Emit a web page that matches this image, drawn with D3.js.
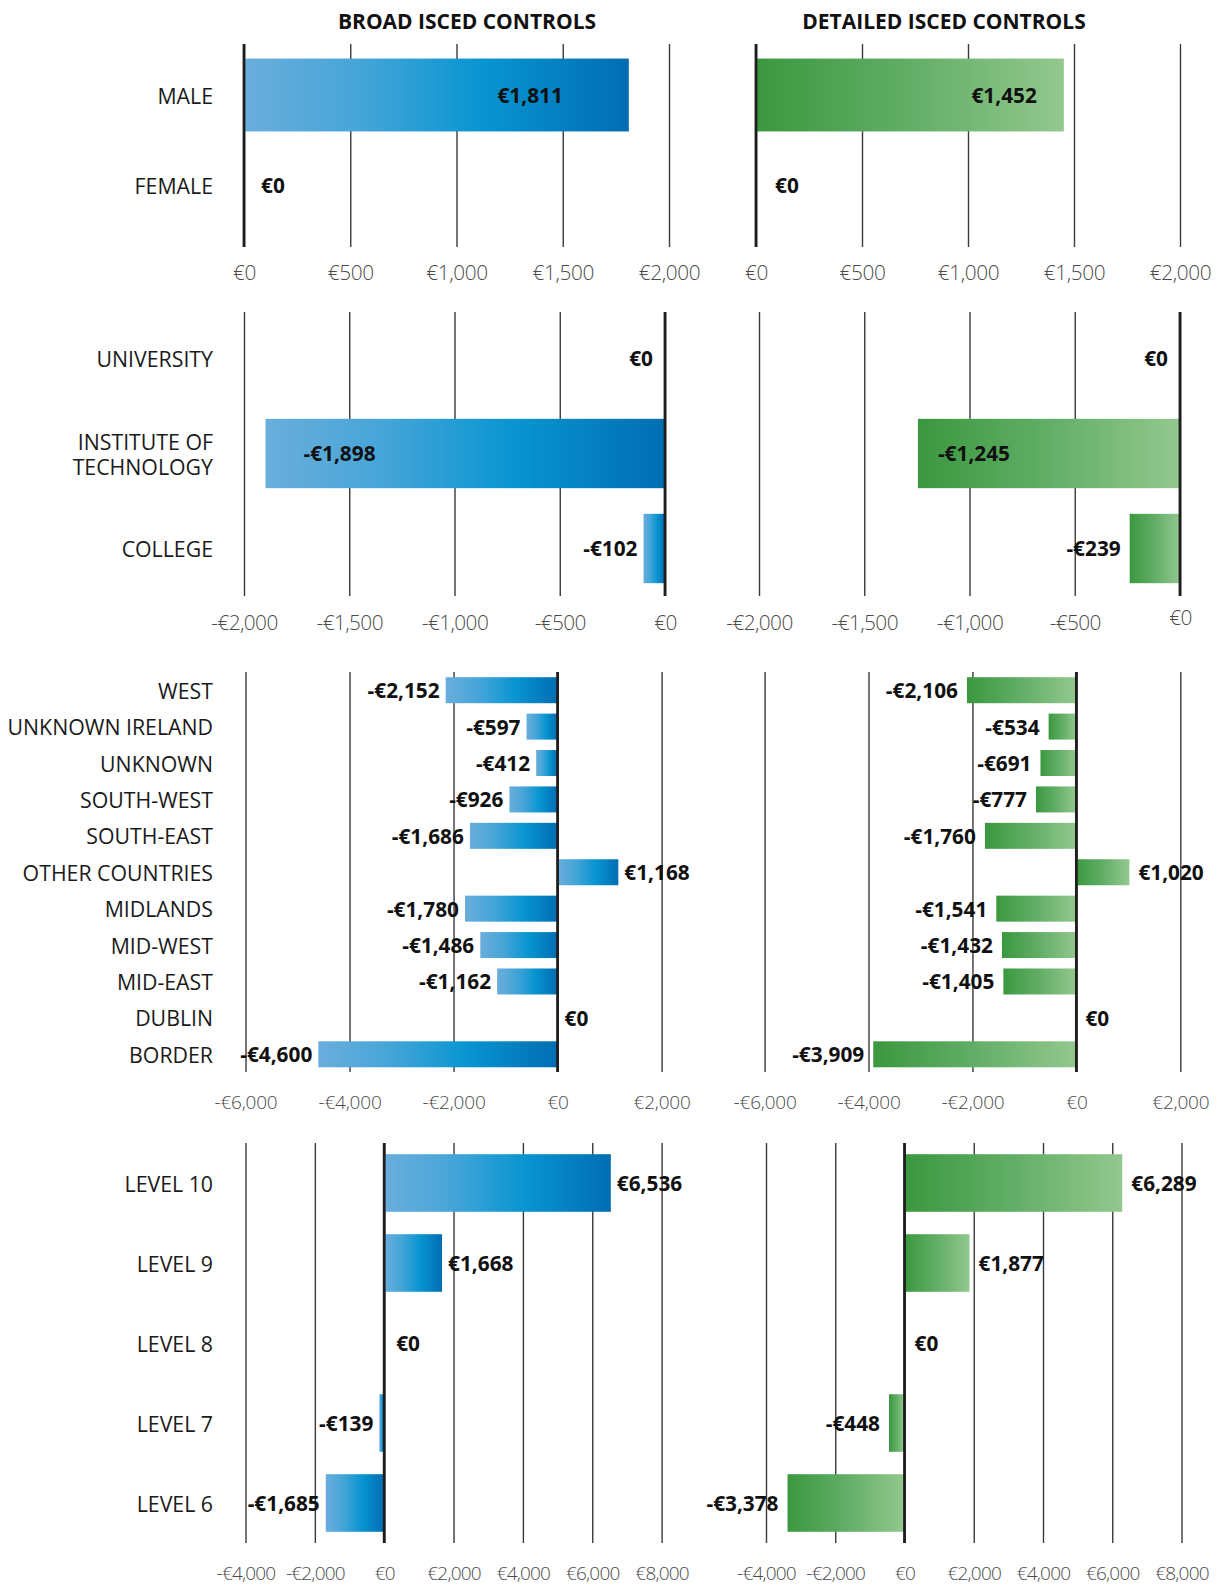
<!DOCTYPE html>
<html><head><meta charset="utf-8">
<script src="https://cdn.jsdelivr.net/npm/d3@7"></script>
<style>
body{margin:0;background:#fff}
svg{display:block}
text{font-family:"Open Sans",sans-serif}
</style>
</head><body>
<svg id="chart" width="1219" height="1585"></svg>
<script>
// ---------- DATA ----------
const panelTitles = ["BROAD ISCED CONTROLS", "DETAILED ISCED CONTROLS"];

const genderCats = ["MALE", "FEMALE"];
const genderBroad = [1811, 0];
const genderDetailed = [1452, 0];
const genderTicks = [0, 500, 1000, 1500, 2000];

const instCats = ["UNIVERSITY", "INSTITUTE OF TECHNOLOGY", "COLLEGE"];
const instBroad = [0, -1898, -102];
const instDetailed = [0, -1245, -239];
const instTicks = [-2000, -1500, -1000, -500, 0];

const regionCats = ["WEST", "UNKNOWN IRELAND", "UNKNOWN", "SOUTH-WEST", "SOUTH-EAST",
  "OTHER COUNTRIES", "MIDLANDS", "MID-WEST", "MID-EAST", "DUBLIN", "BORDER"];
const regionBroad = [-2152, -597, -412, -926, -1686, 1168, -1780, -1486, -1162, 0, -4600];
const regionDetailed = [-2106, -534, -691, -777, -1760, 1020, -1541, -1432, -1405, 0, -3909];
const regionTicks = [-6000, -4000, -2000, 0, 2000];

const levelCats = ["LEVEL 10", "LEVEL 9", "LEVEL 8", "LEVEL 7", "LEVEL 6"];
const levelBroad = [6536, 1668, 0, -139, -1685];
const levelDetailed = [6289, 1877, 0, -448, -3378];
const levelTicks = [-4000, -2000, 0, 2000, 4000, 6000, 8000];

// ---------- LAYOUT ----------
const rows = [
  {cats: genderCats, vals: [genderBroad, genderDetailed], ticks: genderTicks,
   band: [50, 230], pad: 0.19, grid: [44, 247], tickY: 273, tickFont: 20.8, tickLs: -0.4,
   xr: [[244, 669], [756, 1180]], zeroPad: [17, 19], insidePad: [66, 27], wrap: 0},
  {cats: instCats, vals: [instBroad, instDetailed], ticks: instTicks,
   band: [311, 596], pad: 0.27, grid: [312, 596], tickY: 623, tickFont: 20.8, tickLs: -0.6,
   xr: [[244, 665], [759, 1180]], zeroPad: [-12, -12], insidePad: [38, 20], wrap: 160},
  {cats: regionCats, vals: [regionBroad, regionDetailed], ticks: regionTicks,
   band: [672, 1072.5], pad: 0.286, grid: [672, 1072], tickY: 1102, tickFont: 19, tickLs: -0.2,
   xr: [[245.5, 661.6], [764.6, 1180.3]], zeroPad: [7, 9], insidePad: [0, 0], wrap: 0},
  {cats: levelCats, vals: [levelBroad, levelDetailed], ticks: levelTicks,
   band: [1143, 1543], pad: 0.28, grid: [1143, 1543], tickY: 1573, tickFont: 19, tickLs: -0.8,
   xr: [[245.5, 661.6], [766, 1181.5]], zeroPad: [12, 10], insidePad: [0, 0], wrap: 0}
];
const titleX = [467, 944], titleY = 21;
const labelRight = 213;
const outsidePad = [6, 9];
const insideThreshold = 250;

const fmt = v => (v < 0 ? "-€" : "€") + d3.format(",")(Math.abs(v));

const svg = d3.select("#chart");
const defs = svg.append("defs");
const blue = defs.append("linearGradient").attr("id", "gBlue").attr("x1", 0).attr("x2", 1).attr("y1", 0).attr("y2", 0);
[[0, "#6aaedc"], [0.3, "#45a5d8"], [0.62, "#0895d1"], [1, "#016db3"]].forEach(s =>
  blue.append("stop").attr("offset", s[0]).attr("stop-color", s[1]));
const green = defs.append("linearGradient").attr("id", "gGreen").attr("x1", 0).attr("x2", 1).attr("y1", 0).attr("y2", 0);
[[0, "#3b983f"], [0.5, "#62ae67"], [1, "#93c88e"]].forEach(s =>
  green.append("stop").attr("offset", s[0]).attr("stop-color", s[1]));
const fills = ["url(#gBlue)", "url(#gGreen)"];

// titles
panelTitles.forEach((t, i) => {
  svg.append("text").attr("x", titleX[i]).attr("y", titleY).attr("dy", "0.36em")
    .attr("text-anchor", "middle").attr("font-weight", 700).attr("font-size", 21)
    .attr("fill", "#111").text(t);
});

rows.forEach((row, ri) => {
  const y = d3.scaleBand().domain(row.cats).range(row.band)
    .paddingInner(row.pad).paddingOuter(row.pad / 2);

  // category labels
  const lab = svg.append("g");
  row.cats.forEach(c => {
    const t = lab.append("text").attr("x", labelRight).attr("text-anchor", "end")
      .attr("font-size", 21.3).attr("fill", "#1a1a1a");
    const cy = y(c) + y.bandwidth() / 2;
    let lines = [c];
    if (row.wrap) {
      const words = c.split(" ");
      lines = []; let cur = "";
      words.forEach(w => {
        const test = cur ? cur + " " + w : w;
        if (test.length * 11 > row.wrap && cur) { lines.push(cur); cur = w; } else cur = test;
      });
      lines.push(cur);
    }
    const lh = 25;
    lines.forEach((ln, k) => {
      t.append("tspan").attr("x", labelRight)
        .attr("y", cy + (k - (lines.length - 1) / 2) * lh).attr("dy", "0.4em").text(ln);
    });
  });

  [0, 1].forEach(pi => {
    const x = d3.scaleLinear().domain(d3.extent(row.ticks)).range(row.xr[pi]);
    const g = svg.append("g");
    const gh = row.grid[1] - row.grid[0];

    // axis with gridlines
    const ax = g.append("g").attr("transform", `translate(0,${row.grid[1]})`)
      .call(d3.axisBottom(x).tickValues(row.ticks).tickFormat(fmt)
        .tickSize(-gh).tickPadding(0));
    ax.select(".domain").remove();
    ax.selectAll(".tick line").attr("stroke", "#3a3a3a").attr("stroke-width", 1.4);
    ax.selectAll(".tick text")
      .attr("y", row.tickY - row.grid[1]).attr("dy", "0.36em")
      .attr("font-family", "Open Sans").attr("font-size", row.tickFont).attr("font-weight", 300)
      .attr("fill", "#4a4a4a").attr("letter-spacing", row.tickLs)
      .attr("transform", d => (ri === 1 && pi === 1 && d === 0) ? "translate(0,-5)" : null);

    const vals = row.vals[pi];
    const data = row.cats.map((c, i) => ({c, v: vals[i]}));

    // bars
    g.selectAll("rect.bar").data(data.filter(d => d.v !== 0)).join("rect")
      .attr("class", "bar")
      .attr("x", d => Math.min(x(0), x(d.v)))
      .attr("width", d => Math.abs(x(d.v) - x(0)))
      .attr("y", d => y(d.c)).attr("height", y.bandwidth())
      .attr("fill", fills[pi]);

    // zero line
    g.append("line").attr("x1", x(0)).attr("x2", x(0))
      .attr("y1", row.grid[0]).attr("y2", row.grid[1])
      .attr("stroke", "#1e1e1e").attr("stroke-width", 2.8);

    // value labels
    g.selectAll("text.val").data(data).join("text").attr("class", "val")
      .attr("font-size", 20.8).attr("font-weight", 700).attr("fill", "#111")
      .attr("dy", "0.38em")
      .attr("y", d => y(d.c) + y.bandwidth() / 2)
      .each(function(d) {
        const s = d3.select(this);
        const w = Math.abs(x(d.v) - x(0));
        let xp, anchor;
        if (d.v === 0) {
          const zp = row.zeroPad[pi];
          xp = x(0) + zp; anchor = zp < 0 ? "end" : "start";
        } else if (w > insideThreshold) {
          if (d.v > 0) { xp = x(d.v) - row.insidePad[pi]; anchor = "end"; }
          else { xp = x(d.v) + row.insidePad[pi]; anchor = "start"; }
        } else {
          if (d.v > 0) { xp = x(d.v) + outsidePad[pi]; anchor = "start"; }
          else { xp = x(d.v) - outsidePad[pi]; anchor = "end"; }
        }
        s.attr("x", xp).attr("text-anchor", anchor);
      })
      .text(d => fmt(d.v));
  });
});
</script>
</body></html>
